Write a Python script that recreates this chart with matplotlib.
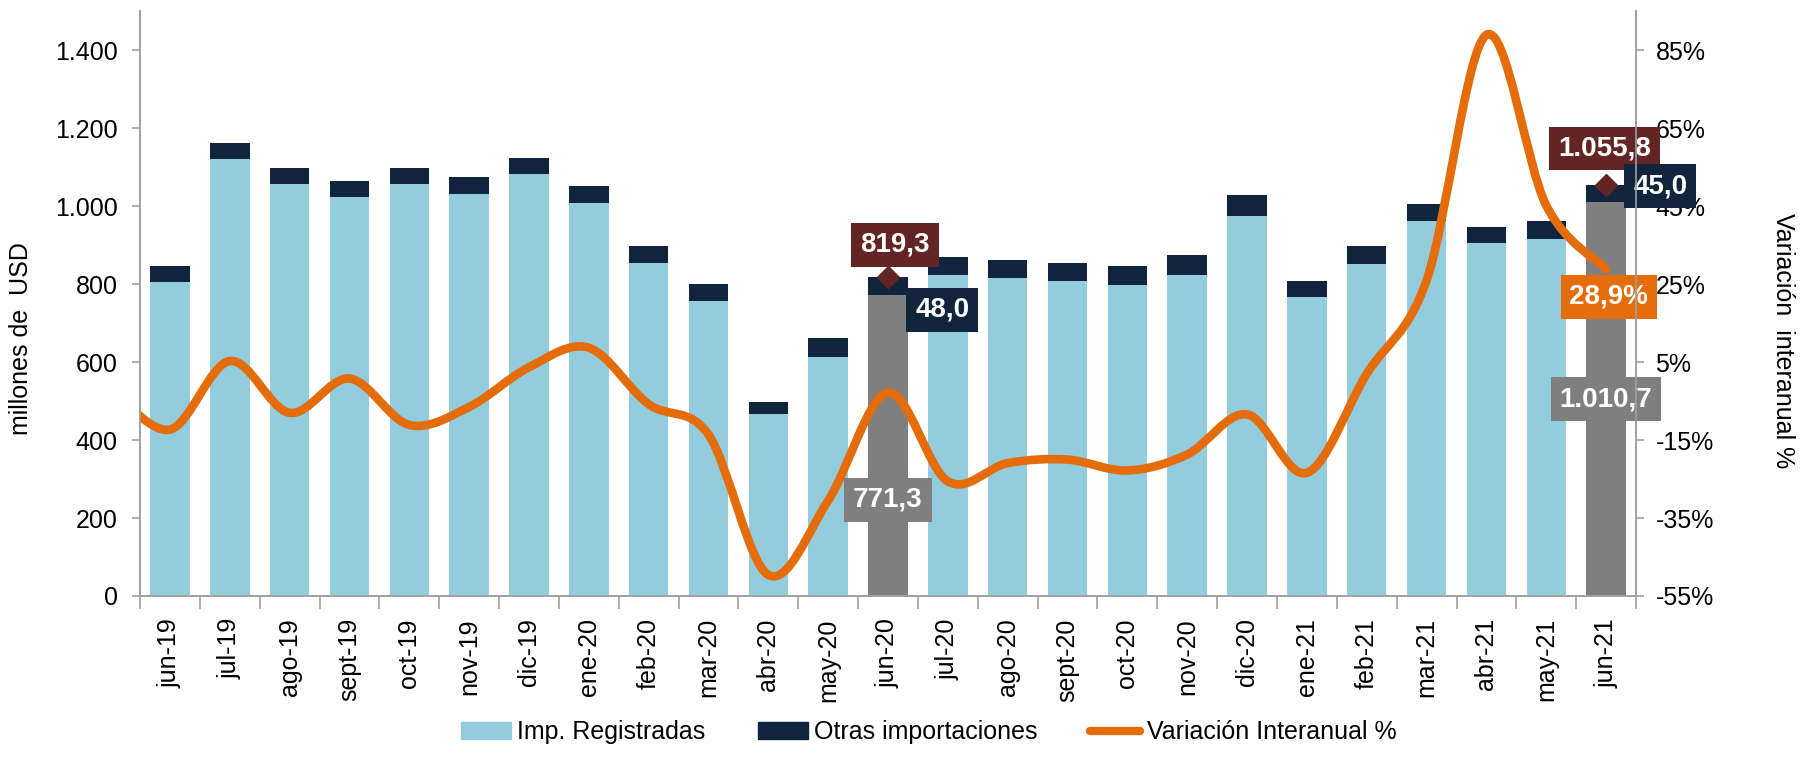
import numpy as np
import matplotlib
matplotlib.use("Agg")
import matplotlib.pyplot as plt
from matplotlib.path import Path
from matplotlib.patches import PathPatch, Patch
from matplotlib.lines import Line2D
from matplotlib.ticker import FuncFormatter, FixedLocator

plt.rcParams['font.family'] = ['Liberation Sans', 'DejaVu Sans']

meses = ["jun-19", "jul-19", "ago-19", "sept-19", "oct-19", "nov-19", "dic-19",
         "ene-20", "feb-20", "mar-20", "abr-20", "may-20", "jun-20", "jul-20",
         "ago-20", "sept-20", "oct-20", "nov-20", "dic-20", "ene-21", "feb-21",
         "mar-21", "abr-21", "may-21", "jun-21"]

# millones de USD
registradas = [806, 1121, 1057, 1023, 1056, 1032, 1084, 1009, 855, 757, 467, 612, 771.3,
               823, 816, 808, 798, 824, 976, 766, 853, 962, 905, 917, 1010.74]
otras = [41, 42, 42, 41, 42, 42, 39, 43, 43, 44, 30, 49, 48.0,
         47, 46, 46, 48, 50, 52, 42, 44, 44, 43, 44, 45.04]

# variacion interanual % (el primer valor es may-19, fuera del rango visible)
var_may19 = -1.5
variacion = [-12.3, 5.3, -8.0, 0.8, -11.1, -6.5, 3.7, 8.7, -5.8, -13.6, -49.6, -30.5, -2.8,
             -25.6, -20.9, -20.0, -22.8, -18.7, -8.4, -23.4, 2.0, 26.0, 89.0, 45.2, 28.9]

destacados = ["jun-20", "jun-21"]

c_reg = "#93CDDD"
c_otras = "#10243E"
c_gris = "#7F7F7F"
c_naranja = "#E46C0A"
c_granate = "#632523"
c_eje = "#A0A0A0"

fig = plt.figure(figsize=(18, 7.63), dpi=100)
ax = fig.add_axes([0.0778, 0.2189, 0.8311, 0.7661])
ax2 = ax.twinx()

x = np.arange(len(meses))
total = np.array(registradas) + np.array(otras)
colores = [c_gris if m in destacados else c_reg for m in meses]
ax.bar(x, registradas, width=0.66, color=colores, zorder=2)
ax.bar(x, otras, bottom=registradas, width=0.66, color=c_otras, zorder=2)

ax.set_xlim(-0.5, len(meses) - 0.5)
ax.set_ylim(0, 1500)
ax.set_yticks(np.arange(0, 1401, 200))
ax.yaxis.set_major_formatter(FuncFormatter(lambda v, p: f"{v:,.0f}".replace(",", ".")))
ax.set_xticks(x)
ax.set_xticklabels(meses, rotation=90, fontsize=18)
ax.xaxis.set_minor_locator(FixedLocator(np.arange(-0.5, len(meses), 1.0)))
ax.tick_params(axis="x", which="major", length=0, pad=16)
ax.tick_params(axis="x", which="minor", length=9, color=c_eje, width=1.2)
ax.tick_params(axis="y", length=6, color=c_eje, width=1.2, labelsize=18, pad=10)

ax2.set_ylim(-55, 95)
ax2.set_yticks(np.arange(-55, 86, 20))
ax2.yaxis.set_major_formatter(FuncFormatter(lambda v, p: f"{v:.0f}%"))
ax2.tick_params(axis="y", length=6, color=c_eje, width=1.2, labelsize=18, pad=8)

for a in (ax, ax2):
    a.spines["top"].set_visible(False)
    for s in ("left", "right", "bottom"):
        a.spines[s].set_color(c_eje)
        a.spines[s].set_linewidth(1.2)

# linea suavizada estilo Excel
xs = np.arange(-1, len(meses)).astype(float)
ys = np.array([var_may19] + variacion, dtype=float)
pts = np.column_stack([xs, ys])
verts = [pts[0]]
codes = [Path.MOVETO]
n = len(pts)
for i in range(n - 1):
    p0 = pts[i - 1] if i > 0 else pts[i]
    p1, p2 = pts[i], pts[i + 1]
    p3 = pts[i + 2] if i + 2 < n else pts[i + 1]
    verts += [p1 + (p2 - p0) / 6, p2 - (p3 - p1) / 6, p2]
    codes += [Path.CURVE4] * 3
ax2.add_patch(PathPatch(Path(verts, codes), facecolor="none", edgecolor=c_naranja,
                        lw=6.2, capstyle="round", joinstyle="round", zorder=1.5))

# etiquetas
def caja(texto, xy, off, color, coords=None):
    ax2.annotate(texto, xy=xy, xycoords=coords or ax.transData, xytext=off,
                 textcoords="offset points", ha="center", va="center", color="white",
                 fontsize=20, fontweight="bold",
                 bbox=dict(boxstyle="square,pad=0.32", fc=color, ec="none"),
                 zorder=2, annotation_clip=False)

def fmt(v):
    return f"{v:,.1f}".replace(",", "X").replace(".", ",").replace("X", ".")

for m in destacados:
    i = meses.index(m)
    ax.plot(i, total[i], marker="D", ms=11, color=c_granate, zorder=5, clip_on=False)

i1, i2 = meses.index("jun-20"), meses.index("jun-21")
caja(fmt(total[i1]), (i1, total[i1]), (5, 23), c_granate)
caja(fmt(otras[i1]), (i1, total[i1] - otras[i1] / 2), (39, -17), c_otras)
caja(fmt(registradas[i1]), (i1, registradas[i1] * 0.32), (0, 0), c_gris)
caja(fmt(total[i2]), (i2, total[i2]), (-1, 26), c_granate)
caja(fmt(otras[i2]), (i2, total[i2] - otras[i2] / 2), (39, 5), c_otras)
caja(fmt(registradas[i2]), (i2, registradas[i2] / 2), (0, 0), c_gris)
caja(fmt(variacion[-1]) + "%", (i2, variacion[-1]), (2, -20), c_naranja, coords="data")

fig.text(0.0117, 0.556, "millones de  USD", rotation=90, ha="center", va="center", fontsize=18)
fig.text(0.9905, 0.554, "Variación  interanual %", rotation=270, ha="center", va="center", fontsize=18)

handles = [Patch(color=c_reg, label="Imp. Registradas"),
           Patch(color=c_otras, label="Otras importaciones"),
           Line2D([0], [0], color=c_naranja, lw=6, solid_capstyle="round",
                  label="Variación Interanual %")]
fig.legend(handles=handles, loc="lower center", bbox_to_anchor=(0.516, -0.005), ncol=3,
           frameon=False, fontsize=18, handlelength=2.0, handletextpad=0.25,
           columnspacing=2.1)

fig.savefig("out.png", dpi=100)
